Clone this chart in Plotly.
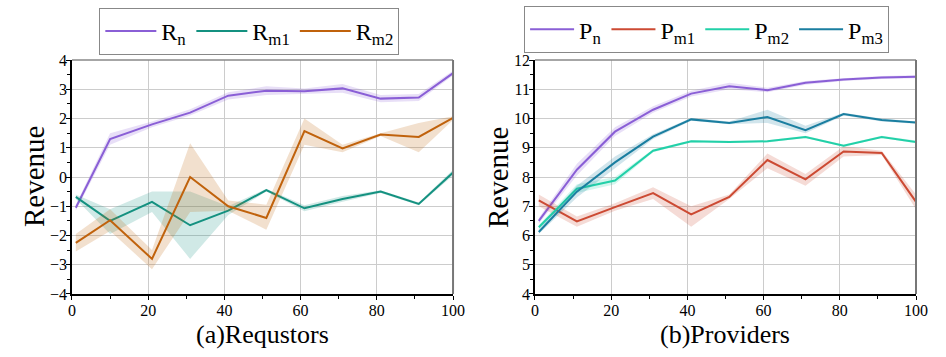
import plotly.graph_objects as go

x_req = [1, 10, 21, 31, 41, 51, 61, 71, 81, 91, 100]
x_pro = [1, 11, 21, 31, 41, 51, 61, 71, 81, 91, 100]

rn = [-1.05, 1.3, 1.8, 2.2, 2.78, 2.95, 2.93, 3.03, 2.68, 2.72, 3.55]
rn_lo = [-1.15, 1.1, 1.7, 2.1, 2.65, 2.8, 2.83, 2.88, 2.56, 2.6, 3.47]
rn_hi = [-0.95, 1.5, 1.9, 2.32, 2.9, 3.1, 3.03, 3.18, 2.8, 2.84, 3.63]

rm1 = [-0.68, -1.5, -0.85, -1.65, -1.15, -0.45, -1.07, -0.75, -0.5, -0.92, 0.15]
rm1_lo = [-0.75, -1.95, -1.2, -2.8, -1.3, -0.5, -1.17, -0.85, -0.55, -0.97, 0.05]
rm1_hi = [-0.6, -1.1, -0.5, -0.5, -1.0, -0.4, -0.97, -0.65, -0.45, -0.87, 0.25]

rm2 = [-2.25, -1.48, -2.8, 0.0, -1.0, -1.4, 1.57, 0.98, 1.45, 1.37, 2.02]
rm2_lo = [-2.55, -1.85, -3.15, -1.2, -1.15, -1.8, 1.1, 0.85, 1.4, 0.85, 1.95]
rm2_hi = [-1.95, -1.1, -2.5, 1.15, -0.8, -0.95, 2.0, 1.1, 1.5, 1.85, 2.08]

pn = [6.5, 8.25, 9.55, 10.3, 10.85, 11.1, 10.97, 11.22, 11.33, 11.4, 11.43]
pn_lo = [6.4, 8.05, 9.4, 10.2, 10.75, 11.0, 10.9, 11.15, 11.28, 11.35, 11.38]
pn_hi = [6.6, 8.45, 9.7, 10.42, 10.95, 11.22, 11.05, 11.28, 11.38, 11.45, 11.48]

pm1 = [7.2, 6.48, 6.97, 7.45, 6.72, 7.32, 8.58, 7.92, 8.87, 8.82, 7.15]
pm1_lo = [7.0, 6.3, 6.85, 7.25, 6.3, 7.25, 8.3, 7.7, 8.7, 8.75, 6.9]
pm1_hi = [7.4, 6.65, 7.1, 7.65, 7.0, 7.4, 8.8, 8.1, 9.05, 8.9, 7.4]

pm2 = [6.28, 7.6, 7.88, 8.9, 9.22, 9.2, 9.22, 9.37, 9.07, 9.37, 9.2]
pm2_lo = [6.2, 7.45, 7.75, 8.85, 9.18, 9.16, 9.18, 9.33, 9.03, 9.33, 9.15]
pm2_hi = [6.36, 7.75, 8.0, 8.95, 9.26, 9.24, 9.26, 9.41, 9.11, 9.41, 9.25]

pm3 = [6.12, 7.5, 8.5, 9.38, 9.97, 9.85, 10.05, 9.6, 10.15, 9.95, 9.86]
pm3_lo = [6.05, 7.3, 8.3, 9.3, 9.92, 9.8, 9.85, 9.5, 10.1, 9.9, 9.82]
pm3_hi = [6.2, 7.7, 8.7, 9.46, 10.02, 9.9, 10.3, 9.75, 10.2, 10.0, 9.9]

FONT = "Liberation Serif"


def rgba(hex_color, a):
    h = hex_color.lstrip("#")
    r, g, b = int(h[0:2], 16), int(h[2:4], 16), int(h[4:6], 16)
    return "rgba({},{},{},{})".format(r, g, b, a)


fig = go.Figure()


def add_series(x, y, lo, hi, name, color, xa, ya, legend):
    fig.add_trace(go.Scatter(x=x + x[::-1], y=hi + lo[::-1], fill="toself",
                             fillcolor=rgba(color, 0.2), line=dict(width=0),
                             mode="lines", hoverinfo="skip", showlegend=False,
                             xaxis=xa, yaxis=ya))
    fig.add_trace(go.Scatter(x=x, y=y, mode="lines", name=name,
                             line=dict(color=color, width=2),
                             xaxis=xa, yaxis=ya, legend=legend))


add_series(x_req, rn, rn_lo, rn_hi, "R<sub>n</sub>", "#8a5fd6", "x", "y", "legend")
add_series(x_req, rm1, rm1_lo, rm1_hi, "R<sub>m1</sub>", "#149180", "x", "y", "legend")
add_series(x_req, rm2, rm2_lo, rm2_hi, "R<sub>m2</sub>", "#c0620c", "x", "y", "legend")

add_series(x_pro, pn, pn_lo, pn_hi, "P<sub>n</sub>", "#8a5fd6", "x2", "y2", "legend2")
add_series(x_pro, pm1, pm1_lo, pm1_hi, "P<sub>m1</sub>", "#cc4a33", "x2", "y2", "legend2")
add_series(x_pro, pm2, pm2_lo, pm2_hi, "P<sub>m2</sub>", "#22d0a8", "x2", "y2", "legend2")
add_series(x_pro, pm3, pm3_lo, pm3_hi, "P<sub>m3</sub>", "#1a7ea0", "x2", "y2", "legend2")

xaxis_style = dict(range=[0, 100], dtick=20, ticks="outside", ticklen=4,
                   tickcolor="black", linecolor="black", linewidth=1.5,
                   showgrid=True, gridcolor="#cccccc", gridwidth=1,
                   zeroline=False, mirror=False, automargin=False,
                   ticklabelstandoff=-3,
                   minor=dict(dtick=10, ticks="outside", ticklen=3, tickcolor="black", showgrid=False),
                   tickfont=dict(family=FONT, size=16, color="black"))
yaxis_style = dict(dtick=1, ticks="outside", ticklen=4, tickcolor="black",
                   linecolor="black", linewidth=1.5, showgrid=True,
                   gridcolor="#cccccc", gridwidth=1, zeroline=False, automargin=False,
                   ticklabelstandoff=-4,
                   minor=dict(dtick=0.5, ticks="outside", ticklen=3, tickcolor="black", showgrid=False),
                   tickfont=dict(family=FONT, size=16, color="black"))

legend_style = dict(orientation="h", xanchor="left", yanchor="top",
                    bordercolor="#888888", borderwidth=1, bgcolor="white",
                    font=dict(family=FONT, size=24, color="black"),
                    tracegroupgap=0)

fig.update_layout(
    width=946, height=357,
    margin=dict(l=0, r=0, t=0, b=0),
    paper_bgcolor="white", plot_bgcolor="white",
    font=dict(family=FONT, color="black"),
    xaxis=dict(xaxis_style, domain=[0.0761, 0.4789], anchor="y"),
    yaxis=dict(yaxis_style, domain=[0.1765, 0.8319], range=[-4, 4], anchor="x"),
    xaxis2=dict(xaxis_style, domain=[0.5655, 0.9683], anchor="y2"),
    yaxis2=dict(yaxis_style, domain=[0.1765, 0.8319], range=[4, 12], anchor="x2"),
    legend=dict(legend_style, x=0.105, y=0.978, itemwidth=51),
    legend2=dict(legend_style, x=0.554, y=0.983, itemwidth=44),
)

# axis titles
for txt, xp in [("(a)Requstors", 0.2775), ("(b)Providers", 0.7669)]:
    fig.add_annotation(text=txt, xref="paper", yref="paper", x=xp, y=1 - 334 / 357,
                       showarrow=False, xanchor="center", yanchor="middle",
                       font=dict(family=FONT, size=26, color="black"))
for xp in [34 / 946, 498 / 946]:
    fig.add_annotation(text="Revenue", xref="paper", yref="paper", x=xp, y=1 - 177 / 357,
                       showarrow=False, textangle=-90, xanchor="center", yanchor="middle",
                       font=dict(family=FONT, size=29, color="black"))

# gray frame on top and right of each panel
for xref, yref in [("x domain", "y domain"), ("x2 domain", "y2 domain")]:
    fig.add_shape(type="line", xref=xref, yref=yref, x0=0, x1=1, y0=1, y1=1,
                  line=dict(color="#888888", width=1.5))
    fig.add_shape(type="line", xref=xref, yref=yref, x0=1, x1=1, y0=0, y1=1,
                  line=dict(color="#777777", width=2))

fig.write_html("out.html", config={"displayModeBar": False},
               post_script="document.body.style.margin='0';")
